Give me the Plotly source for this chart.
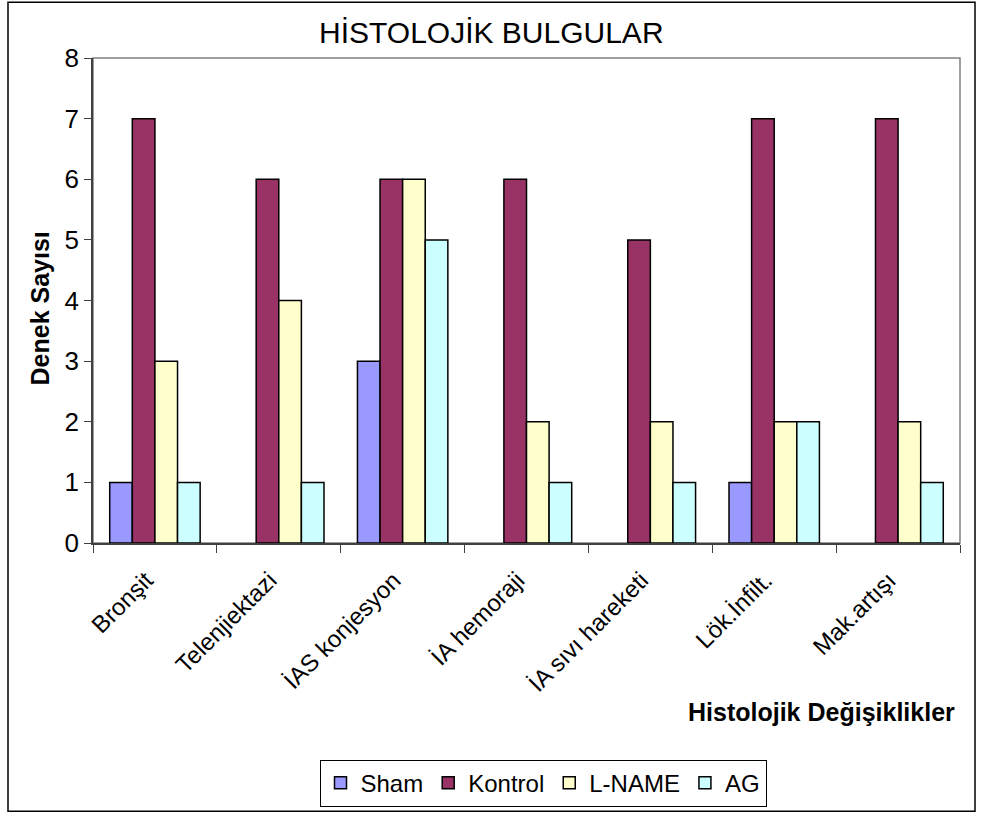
import plotly.graph_objects as go

categories = ["Bronşit", "Telenjiektazi", "İAS konjesyon", "İA hemoraji",
              "İA sıvı hareketi", "Lök.İnfilt.", "Mak.artışı"]
sham = [1, 0, 3, 0, 0, 1, 0]
kontrol = [7, 6, 6, 6, 5, 7, 7]
lname = [3, 4, 6, 2, 2, 2, 2]
ag = [1, 1, 5, 1, 1, 2, 1]
y_ticks = [0, 1, 2, 3, 4, 5, 6, 7, 8]

series = [("Sham", sham, "#9999FF"), ("Kontrol", kontrol, "#993366"),
          ("L-NAME", lname, "#FFFFCC"), ("AG", ag, "#CCFFFF")]

W, H = 986, 818
L, R, T, B = 93, 26, 58, 272
pw, ph = W - L - R, H - T - B

def px_x(p):
    return (p - L) / pw

def px_y(p):
    return (H - B - p) / ph

FONT = "Liberation Sans, Arial, sans-serif"

fig = go.Figure()
for name, vals, col in series:
    fig.add_trace(go.Bar(
        x=categories, y=[v if v else None for v in vals], name=name,
        marker=dict(color=col, line=dict(color="black", width=1.5)),
    ))

fig.update_layout(
    width=W, height=H,
    margin=dict(l=L, r=R, t=T, b=B, pad=0),
    paper_bgcolor="white", plot_bgcolor="white",
    barmode="group", bargap=0.27, bargroupgap=0,
    font=dict(family=FONT, color="black"),
    showlegend=True,
    legend=dict(orientation="h", x=px_x(543), xanchor="center",
                y=px_y(764), yanchor="top",
                bordercolor="black", borderwidth=1,
                font=dict(size=24, family=FONT),
                tracegroupgap=0),
    xaxis=dict(tickangle=-45, tickson="boundaries", ticks="outside",
               ticklen=8, tickcolor="#404040", showline=True,
               linecolor="#404040", linewidth=1.5,
               ticklabelstandoff=12, ticklabelshift=-9,
               tickfont=dict(size=24, family=FONT), showgrid=False),
    yaxis=dict(range=[0, 8], tickvals=y_ticks, ticks="outside", ticklen=7,
               tickcolor="#404040", showline=True, linecolor="#404040",
               linewidth=1.5, showgrid=False, zeroline=False,
               tickfont=dict(size=26, family=FONT)),
    shapes=[
        dict(type="rect", xref="paper", yref="paper", x0=0, x1=1, y0=0, y1=1,
             line=dict(color="#808080", width=1.5), layer="below"),
        dict(type="rect", xref="paper", yref="paper",
             x0=px_x(8), x1=px_x(975), y0=px_y(816), y1=px_y(2),
             line=dict(color="black", width=1.5), layer="below"),
    ],
    annotations=[
        dict(text="HİSTOLOJİK BULGULAR", xref="paper", yref="paper",
             x=px_x(491), y=px_y(32), xanchor="center", yanchor="middle",
             showarrow=False, font=dict(size=30, family=FONT)),
        dict(text="<b>Denek Sayısı</b>", xref="paper", yref="paper",
             x=px_x(40), y=px_y(310), xanchor="center", yanchor="middle",
             textangle=-90, showarrow=False, font=dict(size=25, family=FONT)),
        dict(text="<b>Histolojik Değişiklikler</b>", xref="paper", yref="paper",
             x=px_x(957), y=px_y(716), xanchor="right", yanchor="middle",
             showarrow=False, font=dict(size=25, family=FONT)),
    ],
)

fig.write_html("out.html")
